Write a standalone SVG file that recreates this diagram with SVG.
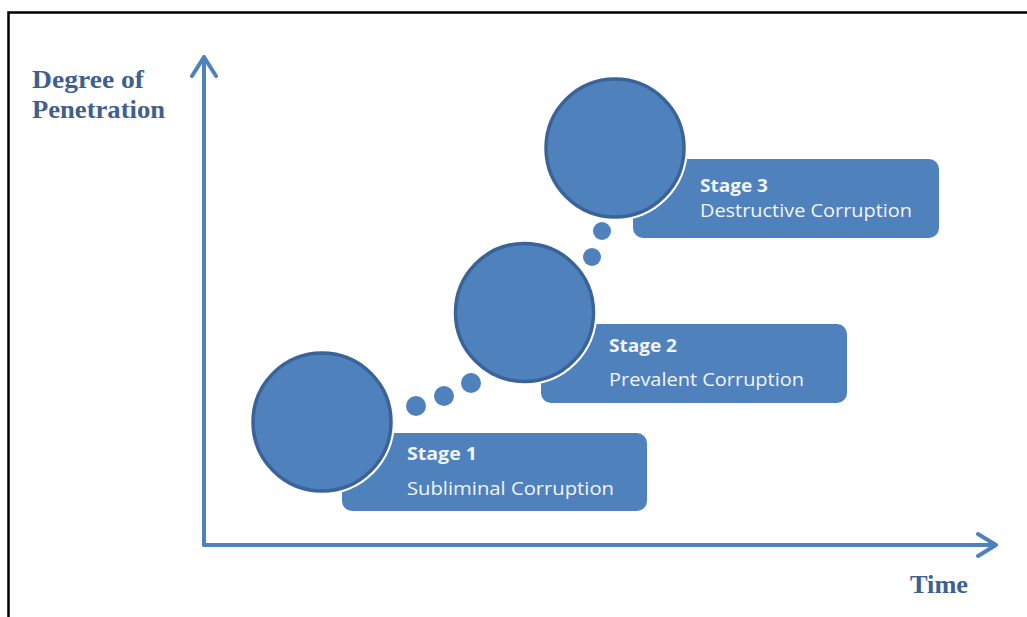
<svg xmlns="http://www.w3.org/2000/svg" width="1027" height="617" viewBox="0 0 1027 617">
<style>
.axis{stroke:#4F81BD;stroke-width:4;fill:none;stroke-linecap:round;stroke-linejoin:round}
.big{fill:#4F81BD;stroke:#3A6399;stroke-width:3.5}
.halo{fill:#fff}
.dot{fill:#4F81BD}
.box{fill:#4F81BD}
.t1{font-family:"Open Sans","Noto Sans",sans-serif;font-weight:bold;font-size:18px;fill:#F2F5FA}
.t2{font-family:"Open Sans","Noto Sans",sans-serif;font-size:17.5px;fill:#F2F5FA}
.ax{font-family:"Liberation Serif",serif;font-weight:bold;font-size:25px;fill:#3F5F8E}
</style>
<rect x="0" y="0" width="1027" height="617" fill="#fff"/>
<path d="M8.5,617 V12.5 H1027" fill="none" stroke="#000" stroke-width="2.5"/>
<g id="axes">
<path class="axis" d="M204,545 V57 M192,76 L204,57 L216,76"/>
<path class="axis" d="M204,545 H996 M978,534 L996,545 L978,556"/>
</g>
<g id="axis-labels">
<text class="ax" x="32" y="88" textLength="112" lengthAdjust="spacingAndGlyphs">Degree of</text>
<text class="ax" x="32" y="118" textLength="133" lengthAdjust="spacingAndGlyphs">Penetration</text>
<text class="ax" x="910" y="593" textLength="58" lengthAdjust="spacingAndGlyphs">Time</text>
</g>
<g id="connectors">
<circle class="dot" cx="416" cy="406" r="10"/>
<circle class="dot" cx="444" cy="396" r="10"/>
<circle class="dot" cx="471" cy="383" r="10"/>
<circle class="dot" cx="592" cy="257" r="9"/>
<circle class="dot" cx="602" cy="231" r="9"/>
</g>
<g id="stage1">
<rect class="box" x="342" y="433" width="305" height="78" rx="10"/>
<circle class="halo" cx="322" cy="422" r="73"/>
<circle class="big" cx="322" cy="422" r="69"/>
<text class="t1" x="407" y="460" textLength="70" lengthAdjust="spacingAndGlyphs">Stage 1</text>
<text class="t2" x="407" y="495" textLength="207" lengthAdjust="spacingAndGlyphs">Subliminal Corruption</text>
</g>
<g id="stage2">
<rect class="box" x="541" y="324" width="306" height="79" rx="10"/>
<circle class="halo" cx="524.5" cy="312.5" r="73"/>
<circle class="big" cx="524.5" cy="312.5" r="69"/>
<text class="t1" x="609" y="352" textLength="68" lengthAdjust="spacingAndGlyphs">Stage 2</text>
<text class="t2" x="609" y="386" textLength="195" lengthAdjust="spacingAndGlyphs">Prevalent Corruption</text>
</g>
<g id="stage3">
<rect class="box" x="633" y="159" width="306" height="79" rx="10"/>
<circle class="halo" cx="615" cy="148" r="73"/>
<circle class="big" cx="615" cy="148" r="69"/>
<text class="t1" x="700" y="192" textLength="68" lengthAdjust="spacingAndGlyphs">Stage 3</text>
<text class="t2" x="700" y="217" textLength="212" lengthAdjust="spacingAndGlyphs">Destructive Corruption</text>
</g>
</svg>
